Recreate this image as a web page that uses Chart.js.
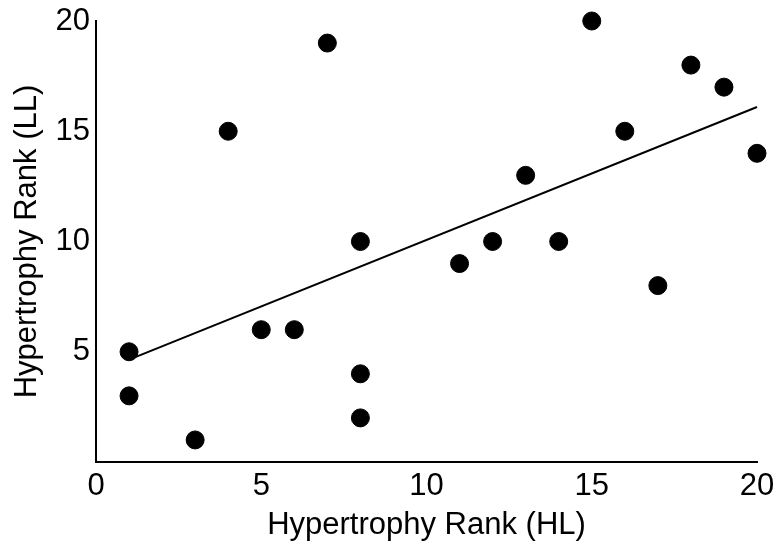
<!DOCTYPE html>
<html lang="en">
<head>
    <meta charset="UTF-8">
    <title>Hypertrophy Rank</title>
    <script src="https://cdn.jsdelivr.net/npm/chart.js"></script>
    <style>
        html, body {
            margin: 0;
            padding: 0;
            background: #fff;
        }

        .chart-box {
            width: 778px;
            height: 546px;
        }
    </style>
</head>
<body>
    <div class="chart-box">
        <canvas id="rankChart"></canvas>
    </div>

    <script>
        // Hypertrophy ranks, HL vs LL
        const rankHL = [1, 1, 3, 4, 5, 6, 7, 8, 8, 8, 11, 12, 13, 14, 15, 16, 17, 18, 19, 20];
        const rankLL = [5, 3, 1, 15, 6, 6, 19, 10, 4, 2, 9, 10, 13, 10, 20, 15, 8, 18, 17, 14];
        const xTicks = [0, 5, 10, 15, 20];
        const yTicks = [5, 10, 15, 20];

        // least-squares fit line over the data range
        function fitLine(xs, ys) {
            const n = xs.length;
            const mx = xs.reduce((a, b) => a + b, 0) / n;
            const my = ys.reduce((a, b) => a + b, 0) / n;
            let sxy = 0, sxx = 0;
            for (let i = 0; i < n; i++) {
                sxy += (xs[i] - mx) * (ys[i] - my);
                sxx += (xs[i] - mx) * (xs[i] - mx);
            }
            const slope = sxy / sxx;
            const icpt = my - slope * mx;
            const x0 = Math.min(...xs), x1 = Math.max(...xs);
            return [{ x: x0, y: icpt + slope * x0 }, { x: x1, y: icpt + slope * x1 }];
        }

        const points = rankHL.map((x, i) => ({ x: x, y: rankLL[i] }));
        const font = { family: 'Liberation Sans, Arial, sans-serif', size: 31 };

        new Chart(document.getElementById('rankChart'), {
            type: 'scatter',
            data: {
                datasets: [
                    {
                        data: points,
                        backgroundColor: '#000',
                        borderColor: '#000',
                        pointRadius: 9,
                        pointHoverRadius: 9,
                        clip: false
                    },
                    {
                        type: 'line',
                        data: fitLine(rankHL, rankLL),
                        borderColor: '#000',
                        borderWidth: 2,
                        pointRadius: 0,
                        fill: false,
                        clip: false
                    }
                ]
            },
            options: {
                responsive: true,
                maintainAspectRatio: false,
                animation: false,
                layout: { padding: { top: 21, right: 21 } },
                plugins: {
                    legend: { display: false },
                    tooltip: { enabled: false }
                },
                scales: {
                    x: {
                        type: 'linear',
                        min: 0,
                        max: 20,
                        afterBuildTicks: s => { s.ticks = xTicks.map(v => ({ value: v })); },
                        afterFit: s => {
                            s.height = 84;
                            s.paddingLeft = 0;
                            s.paddingRight = 0;
                        },
                        grid: { display: false, drawTicks: false },
                        border: { display: true, color: '#000', width: 2 },
                        ticks: { color: '#000', font: font, padding: 6, maxRotation: 0 },
                        title: {
                            display: true,
                            text: 'Hypertrophy Rank (HL)',
                            color: '#000',
                            font: font,
                            padding: { top: 0, bottom: 2 }
                        }
                    },
                    y: {
                        type: 'linear',
                        min: 0,
                        max: 20,
                        afterBuildTicks: s => { s.ticks = yTicks.map(v => ({ value: v })); },
                        afterFit: s => {
                            s.width = 96;
                            s.paddingTop = 0;
                            s.paddingBottom = 0;
                        },
                        grid: { display: false, drawTicks: false },
                        border: { display: true, color: '#000', width: 2 },
                        ticks: { color: '#000', font: font, padding: 6 },
                        title: {
                            display: true,
                            text: 'Hypertrophy Rank (LL)',
                            color: '#000',
                            font: font,
                            padding: { top: 9, bottom: 0 }
                        }
                    }
                }
            }
        });
    </script>
</body>
</html>
